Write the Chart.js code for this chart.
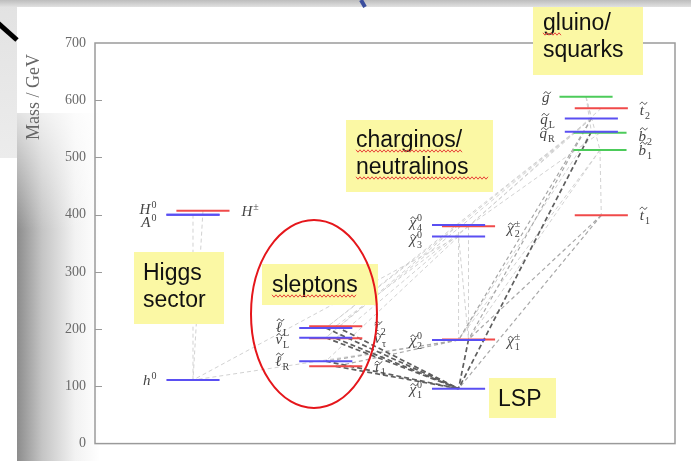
<!DOCTYPE html>
<html>
<head>
<meta charset="utf-8">
<script src="https://cdn.jsdelivr.net/npm/chart.js@4.4.1/dist/chart.umd.min.js"></script>
<style>
  html, body { margin: 0; padding: 0; background: #fff; }
  #wrap { width: 691px; height: 461px; }
</style>
</head>
<body>
<div id="wrap"><canvas id="spectrum" width="691" height="461"></canvas></div>
<script>
// mass spectrum (GeV)
var yTicks = [0, 100, 200, 300, 400, 500, 600, 700];
var groupNames = ['Higgs sector', 'sleptons', 'charginos/neutralinos', 'gluino/squarks'];

var particles = ['h0', 'H0', 'A0', 'Hpm',
                 'eL', 'nuL', 'eR', 'tau2', 'nutau', 'tau1',
                 'chi10', 'chi20', 'chi30', 'chi40', 'chi1pm', 'chi2pm',
                 'gluino', 'qL', 'qR', 't1', 't2', 'b1', 'b2'];
var masses = [111, 400, 400, 407,
              202, 185, 144, 205, 184, 135,
              96, 181, 362, 382, 182, 380,
              606, 568, 545, 399, 586, 513, 543];
var groupOf = [0, 0, 0, 0,
               1, 1, 1, 1, 1, 1,
               2, 2, 2, 2, 2, 2,
               3, 3, 3, 3, 3, 3, 3];
// n = neutral/blue, c = charged/red, g = gluino, b = sbottom
var kinds = ['n', 'n', 'n', 'c',
             'n', 'n', 'n', 'c', 'c', 'c',
             'n', 'n', 'n', 'n', 'c', 'c',
             'g', 'n', 'n', 'c', 'c', 'b', 'b'];
// label symbol: [letter, superscript, subscript]
var symbols = [['h', '0', ''], ['H', '0', ''], ['A', '0', ''], ['H', '\u00b1', ''],
               ['\u2113', '', 'L'], ['\u03bd', '', 'L'], ['\u2113', '', 'R'], ['\u03c4', '', '2'], ['\u03bd', '', '\u03c4'], ['\u03c4', '', '1'],
               ['\u03c7', '0', '1'], ['\u03c7', '0', '2'], ['\u03c7', '0', '3'], ['\u03c7', '0', '4'], ['\u03c7', '\u00b1', '1'], ['\u03c7', '\u00b1', '2'],
               ['g', '', ''], ['q', '', 'L'], ['q', '', 'R'], ['t', '', '1'], ['t', '', '2'], ['b', '', '1'], ['b', '', '2']];

// decays: from, to, strength (0 weak, 1 medium, 2 strong)
var decayFrom = ['eL', 'nuL', 'eR', 'tau2', 'nutau', 'tau1', 'chi1pm', 'qR', 'chi20',
                 't1', 't1', 'qL', 'chi20', 'qL',
                 'H0', 'Hpm', 'chi40', 'chi2pm', 'chi30', 'chi40', 'chi40', 'chi30', 'chi2pm', 'chi2pm', 'chi30', 'chi20',
                 'gluino', 'gluino', 'b1', 'qL', 'qL', 'qL', 'qL', 'b1', 'b2', 't2', 'b1', 'qR', 'gluino'];
var decayTo = ['chi10', 'chi10', 'chi10', 'chi10', 'chi10', 'chi10', 'chi10', 'chi10', 'tau1',
               'chi10', 'chi1pm', 'chi1pm', 'eR', 'chi20',
               'h0', 'h0', 'chi20', 'chi1pm', 'chi1pm', 'eL', 'nuL', 'eR', 'tau2', 'nutau', 'h0', 'h0',
               'qR', 'qL', 't1', 'chi40', 'chi2pm', 'eL', 'nuL', 'chi20', 'chi2pm', 'chi2pm', 'chi1pm', 'chi20', 'b1'];
var decayWeight = [2, 2, 2, 2, 2, 2, 2, 2, 1,
                   1, 1, 1, 1, 1,
                   0, 0, 0, 0, 0, 0, 0, 0, 0, 0, 0, 0,
                   0, 0, 0, 0, 0, 0, 0, 0, 0, 0, 0, 0, 0];

// styles
var kindColor = { n: '#5a4ff2', c: '#f04a4a', g: '#4ccb5a', b: '#4ccb5a' };
var kindShift = { n: 0, c: 0.075, g: -0.04, b: 0.065 };
var halfWidth = 0.2;
var labelSide = { n: 'left', g: 'left', c: 'right', b: 'right' };
var labelNudge = { H0: -6, A0: 7, chi40: -3, chi30: 3, b2: 3, t2: 2, chi2pm: 2, eL: -1, nuL: 1, chi1pm: 2, qR: 1 };
var decayColor = ['#d2d2d2', '#a8a8a8', '#5e5e5e'];
var decayWidth = [1, 1.2, 1.7];
var serif = '"Liberation Serif", "DejaVu Serif", serif';
var sans = '"Liberation Sans", Arial, sans-serif';

function centerOf(name) {
  var i = particles.indexOf(name);
  return { x: groupOf[i] + kindShift[kinds[i]], y: masses[i] };
}

var datasets = [];
particles.forEach(function (p, i) {
  var c = groupOf[i] + kindShift[kinds[i]];
  datasets.push({
    label: p,
    data: [{ x: c - halfWidth, y: masses[i] }, { x: c + halfWidth, y: masses[i] }],
    borderColor: kindColor[kinds[i]],
    borderWidth: 2,
    pointRadius: 0
  });
});
decayFrom.forEach(function (f, i) {
  var a = centerOf(f), b = centerOf(decayTo[i]);
  datasets.push({
    label: f + '>' + decayTo[i],
    data: [a, b],
    borderColor: decayColor[decayWeight[i]],
    borderWidth: decayWidth[decayWeight[i]],
    borderDash: decayWeight[i] === 2 ? [5, 3] : [4, 3],
    pointRadius: 0
  });
});

function tilde(ctx, cx, ty) {
  ctx.save();
  ctx.strokeStyle = '#444';
  ctx.lineWidth = 1;
  ctx.beginPath();
  ctx.moveTo(cx - 3.5, ty + 1);
  ctx.bezierCurveTo(cx - 2, ty - 2, cx - 0.5, ty - 1, cx, ty);
  ctx.bezierCurveTo(cx + 0.5, ty + 1, cx + 2, ty + 2, cx + 3.5, ty - 1);
  ctx.stroke();
  ctx.restore();
}

function drawSymbol(ctx, sym, name, x, y, side) {
  ctx.font = 'italic 15px ' + serif;
  var wm = ctx.measureText(sym[0]).width;
  ctx.font = '10px ' + serif;
  var ws = Math.max(ctx.measureText(sym[1]).width, ctx.measureText(sym[2]).width);
  var total = wm + (ws ? ws + 1 : 0);
  var x0 = side === 'left' ? x - total : x;
  ctx.fillStyle = '#444';
  ctx.textAlign = 'left';
  ctx.textBaseline = 'alphabetic';
  ctx.font = 'italic 15px ' + serif;
  ctx.fillText(sym[0], x0, y);
  ctx.font = '10px ' + serif;
  if (sym[1]) ctx.fillText(sym[1], x0 + wm + 1, y - 6);
  if (sym[2]) ctx.fillText(sym[2], x0 + wm + 1, y + 4);
  if (['h0', 'H0', 'A0', 'Hpm'].indexOf(name) < 0) {
    var tall = '\u2113tb'.indexOf(sym[0]) >= 0;
    tilde(ctx, x0 + wm / 2 + 1.5, y - (tall ? 12 : 9));
  }
}

function wavy(ctx, x1, x2, y) {
  ctx.save();
  ctx.strokeStyle = '#e8413a';
  ctx.lineWidth = 1;
  ctx.beginPath();
  for (var x = x1, k = 0; x <= x2; x += 2, k++) {
    var yy = y + (k % 2 ? 1.2 : -1.2);
    if (x === x1) ctx.moveTo(x, yy); else ctx.lineTo(x, yy);
  }
  ctx.stroke();
  ctx.restore();
}

function noteBox(ctx, x, y, w, h, lines, lx, baselines) {
  ctx.fillStyle = '#fbf8a4';
  ctx.fillRect(x, y, w, h);
  ctx.fillStyle = '#111';
  ctx.font = '23px ' + sans;
  ctx.textAlign = 'left';
  ctx.textBaseline = 'alphabetic';
  lines.forEach(function (t, i) { ctx.fillText(t, lx, baselines[i]); });
}

var slidePlugin = {
  id: 'slide',
  beforeDraw: function (chart) {
    var ctx = chart.ctx;
    ctx.save();
    ctx.fillStyle = '#fff';
    ctx.fillRect(0, 0, chart.width, chart.height);
    // left grey strip
    var g0 = ctx.createLinearGradient(0, 0, 0, 158);
    g0.addColorStop(0, '#e2e2e2');
    g0.addColorStop(1, '#ececec');
    ctx.fillStyle = g0;
    ctx.fillRect(0, 0, 17, 158);
    // shaded panel behind the axis
    var g1 = ctx.createLinearGradient(17, 0, 100, 0);
    g1.addColorStop(0, '#8c8c8c');
    g1.addColorStop(0.3, '#c4c4c4');
    g1.addColorStop(0.7, '#f2f2f2');
    g1.addColorStop(1, '#ffffff');
    ctx.fillStyle = g1;
    ctx.fillRect(17, 113, 83, 348);
    var g2 = ctx.createLinearGradient(0, 113, 0, 230);
    g2.addColorStop(0, 'rgba(255,255,255,0.75)');
    g2.addColorStop(1, 'rgba(255,255,255,0)');
    ctx.fillStyle = g2;
    ctx.fillRect(17, 113, 83, 117);
    // top band
    var g3 = ctx.createLinearGradient(0, 0, 0, 8);
    g3.addColorStop(0, '#bdbdbd');
    g3.addColorStop(1, '#e6e6e6');
    ctx.fillStyle = g3;
    ctx.fillRect(0, 0, chart.width, 7);
    ctx.restore();
  },
  afterDraw: function (chart) {
    var ctx = chart.ctx, a = chart.chartArea, ys = chart.scales.y;
    ctx.save();
    // frame and inner ticks
    ctx.strokeStyle = '#9a9a9a';
    ctx.lineWidth = 1.5;
    ctx.strokeRect(a.left, a.top, a.right - a.left, a.bottom - a.top);
    ctx.lineWidth = 1;
    yTicks.slice(1, -1).forEach(function (v) {
      var y = Math.round(ys.getPixelForValue(v)) + 0.5;
      ctx.beginPath();
      ctx.moveTo(a.left, y);
      ctx.lineTo(a.left + 7, y);
      ctx.stroke();
    });
    // axis title
    ctx.save();
    ctx.translate(39, 97);
    ctx.rotate(-Math.PI / 2);
    ctx.fillStyle = '#666';
    ctx.font = '18px ' + serif;
    ctx.textAlign = 'center';
    ctx.fillText('Mass / GeV', 0, 0);
    ctx.restore();

    // particle labels
    var xs = chart.scales.x;
    particles.forEach(function (p, i) {
      var c = groupOf[i] + kindShift[kinds[i]];
      var side = labelSide[kinds[i]];
      var px = side === 'left' ? xs.getPixelForValue(c - halfWidth) - 10 : xs.getPixelForValue(c + halfWidth) + 12;
      var py = ys.getPixelForValue(masses[i]) + 5 + (labelNudge[p] || 0);
      drawSymbol(ctx, symbols[i], p, px, py, side);
    });

    // slide annotations
    var hg = groupNames[0].split(' '), cn = groupNames[2].split('/'), gs = groupNames[3].split('/');
    noteBox(ctx, 134, 252, 90, 72, hg, 143, [280, 307]);
    noteBox(ctx, 262, 264, 116, 41, [groupNames[1]], 272, [292]);
    noteBox(ctx, 346, 120, 147, 72, [cn[0] + '/', cn[1]], 356, [147, 174]);
    noteBox(ctx, 533, 7, 110, 68, [gs[0] + '/', gs[1]], 543, [30, 57]);
    noteBox(ctx, 489, 378, 67, 40, ['LSP'], 498, [406]);
    wavy(ctx, 272, 357, 296);
    wavy(ctx, 356, 462, 151);
    wavy(ctx, 356, 488, 178);
    wavy(ctx, 543, 561, 34);

    // red ellipse round the sleptons
    ctx.strokeStyle = '#e5161b';
    ctx.lineWidth = 2;
    ctx.beginPath();
    ctx.ellipse(314, 314, 63, 94, 0, 0, Math.PI * 2);
    ctx.stroke();

    // bits of the slide behind
    ctx.strokeStyle = '#000';
    ctx.lineWidth = 5;
    ctx.beginPath();
    ctx.moveTo(-2, 23);
    ctx.lineTo(17, 40);
    ctx.stroke();
    ctx.strokeStyle = '#3b4e9e';
    ctx.lineWidth = 4;
    ctx.beginPath();
    ctx.moveTo(361, 0);
    ctx.lineTo(365, 7);
    ctx.stroke();
    ctx.restore();
  }
};

new Chart(document.getElementById('spectrum'), {
  type: 'line',
  data: { datasets: datasets },
  options: {
    responsive: false,
    animation: false,
    layout: { padding: { top: 43, left: 0, right: 16, bottom: 9 } },
    plugins: { legend: { display: false }, tooltip: { enabled: false } },
    elements: { line: { tension: 0 } },
    scales: {
      x: { type: 'linear', min: -0.738, max: 3.63, display: false },
      y: {
        min: 0,
        max: 700,
        afterFit: function (s) { s.width = 95; },
        afterBuildTicks: function (s) { s.ticks = yTicks.map(function (v) { return { value: v }; }); },
        grid: { display: false, drawTicks: false },
        border: { display: false },
        ticks: { color: '#6a6a6a', padding: 9, font: { family: 'Liberation Serif', size: 14 } }
      }
    }
  },
  plugins: [slidePlugin]
});
</script>
</body>
</html>
